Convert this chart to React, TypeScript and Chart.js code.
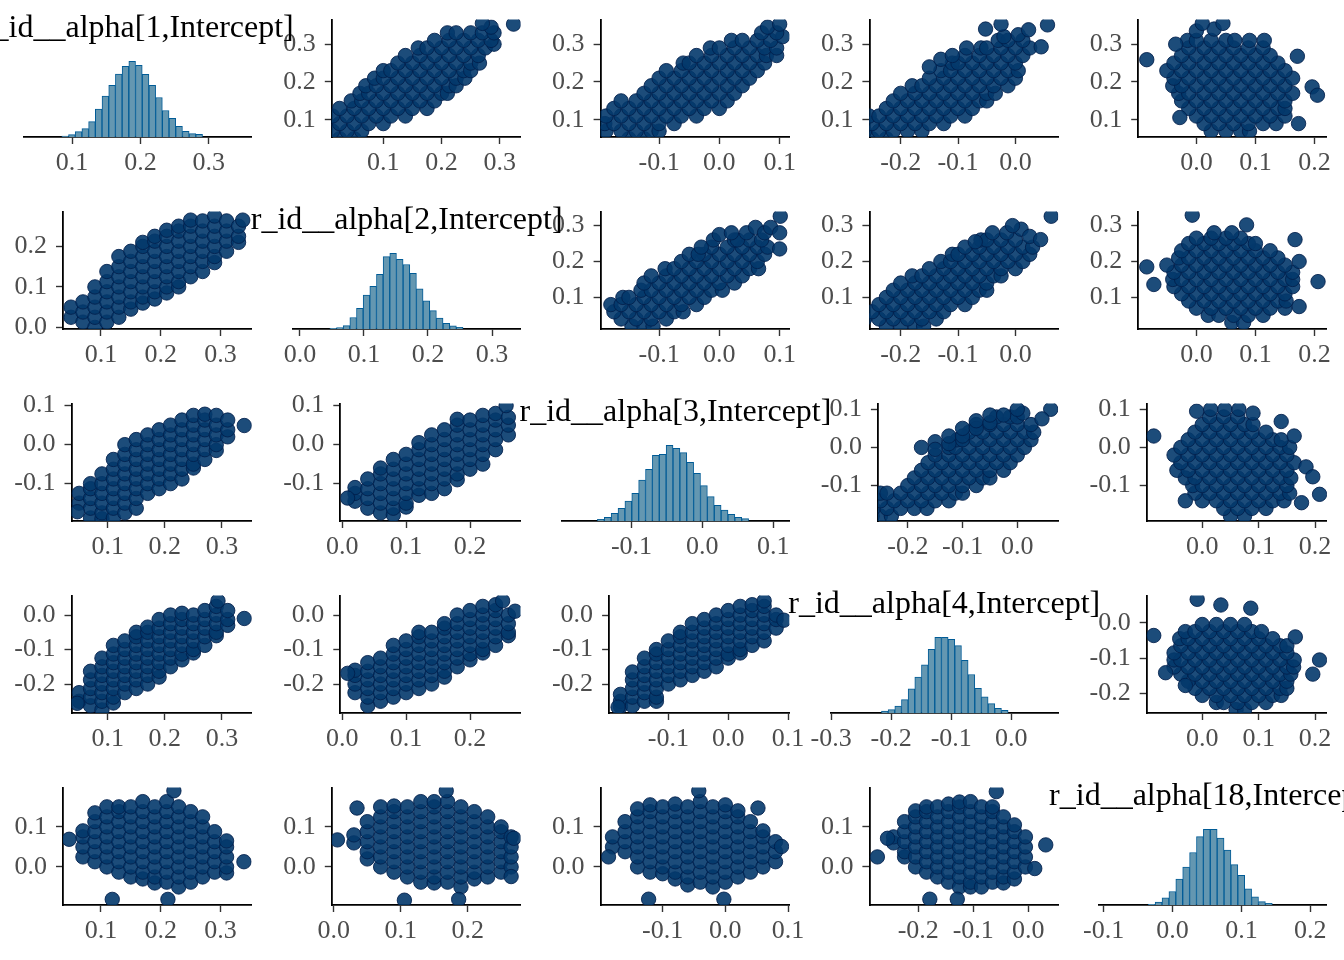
import { useEffect, useRef } from 'react';
import { Chart, registerables } from 'chart.js';

Chart.register(...registerables);

type Col = [number, number[]];
type Pt = [number, number];
type Lim = [number, number];

const PARAMS = [
  'r_id__alpha[1,Intercept]',
  'r_id__alpha[2,Intercept]',
  'r_id__alpha[3,Intercept]',
  'r_id__alpha[4,Intercept]',
  'r_id__alpha[18,Intercept]'
];

const TICK_VALUES = [-0.3, -0.2, -0.1, 0, 0.1, 0.2, 0.3];

// diagonal histograms: bin centres and bar heights
const HIST_1_BINS = [0.0899, 0.0997, 0.1095, 0.1193, 0.1291, 0.1389, 0.1487, 0.1585, 0.1683, 0.1781, 0.1879, 0.1977, 0.2075, 0.2173, 0.2271, 0.2369, 0.2467, 0.2565, 0.2663, 0.2761, 0.2859];
const HIST_1_COUNTS = [3, 7, 16, 25, 46, 83, 122, 154, 188, 211, 226, 214, 187, 154, 118, 79, 56, 32, 17, 10, 8];

const HIST_2_BINS = [0.0519, 0.0623, 0.0727, 0.0831, 0.0935, 0.1039, 0.1143, 0.1247, 0.1351, 0.1455, 0.1559, 0.1663, 0.1767, 0.1871, 0.1975, 0.2079, 0.2183, 0.2287, 0.2391, 0.2495];
const HIST_2_COUNTS = [2, 4, 10, 34, 61, 100, 126, 161, 213, 223, 205, 190, 164, 118, 83, 54, 32, 17, 9, 5];

const HIST_3_BINS = [-0.1432, -0.1335, -0.1238, -0.1141, -0.1044, -0.0947, -0.085, -0.0753, -0.0656, -0.0559, -0.0462, -0.0365, -0.0268, -0.0171, -0.0074, 0.0023, 0.012, 0.0217, 0.0314, 0.0411, 0.0508, 0.0605];
const HIST_3_COUNTS = [5, 11, 23, 38, 60, 83, 123, 155, 197, 200, 227, 218, 205, 176, 143, 106, 73, 47, 33, 20, 11, 7];

const HIST_4_BINS = [-0.2106, -0.1995, -0.1884, -0.1773, -0.1662, -0.1551, -0.144, -0.1329, -0.1218, -0.1107, -0.0996, -0.0885, -0.0774, -0.0663, -0.0552, -0.0441, -0.033, -0.0219, -0.0108];
const HIST_4_COUNTS = [6, 10, 21, 40, 72, 107, 144, 190, 226, 226, 220, 201, 157, 115, 74, 48, 28, 14, 8];

const HIST_5_BINS = [-0.0303, -0.0203, -0.0103, -0.0003, 0.0097, 0.0197, 0.0297, 0.0397, 0.0497, 0.0597, 0.0697, 0.0797, 0.0897, 0.0997, 0.1097, 0.1197, 0.1297, 0.1397];
const HIST_5_COUNTS = [2, 9, 21, 40, 77, 113, 156, 203, 225, 225, 199, 163, 120, 88, 48, 24, 10, 5];

// axis limits per column / row
const X_HIST: Lim[] = [[0.0297, 0.3627], [-0.0112, 0.3445], [-0.1986, 0.1228], [-0.3012, 0.078], [-0.1065, 0.224]];
const X_UPPER: Lim[] = [[0, 0], [0.0117, 0.3354], [-0.197, 0.116], [-0.2546, 0.0745], [-0.0985, 0.221]];
const X_LOWER: Lim[] = [[0.0367, 0.352], [-0.003, 0.279], [-0.199, 0.102], [-0.289, 0.0545], [0, 0]];
const Y_UPPER: Lim[] = [[0.0545, 0.365], [0.012, 0.339], [-0.193, 0.115], [-0.2546, 0.0765], [0, 0]];
const Y_LOWER: Lim[] = [[0, 0], [-0.004, 0.286], [-0.1958, 0.1052], [-0.284, 0.0563], [-0.095, 0.198]];

// scatter clouds: [lower-index param, [higher-index param values]]
// body is shared by both triangles, *_LOWER / *_UPPER are the stray draws seen in each
const PAIR_1_2: Col[] = [
  [0.05, [0.025, 0.05]],
  [0.07, [0.013, 0.038, 0.063]],
  [0.09, [0, 0.025, 0.05, 0.075, 0.1]],
  [0.11, [0.013, 0.038, 0.063, 0.088, 0.113, 0.138]],
  [0.13, [0.025, 0.05, 0.075, 0.1, 0.125, 0.15, 0.175]],
  [0.15, [0.045, 0.063, 0.088, 0.113, 0.138, 0.163, 0.188]],
  [0.17, [0.06, 0.075, 0.1, 0.125, 0.15, 0.175, 0.2, 0.21]],
  [0.19, [0.07, 0.088, 0.113, 0.138, 0.163, 0.188, 0.213, 0.225]],
  [0.21, [0.085, 0.1, 0.125, 0.15, 0.175, 0.2, 0.225, 0.24]],
  [0.23, [0.1, 0.113, 0.138, 0.163, 0.188, 0.213, 0.238, 0.25]],
  [0.25, [0.125, 0.15, 0.175, 0.2, 0.225, 0.25, 0.265]],
  [0.27, [0.138, 0.163, 0.188, 0.213, 0.238, 0.263]],
  [0.29, [0.16, 0.175, 0.2, 0.225, 0.25, 0.275]],
  [0.31, [0.188, 0.213, 0.238, 0.263]],
  [0.33, [0.21, 0.225, 0.25]]
];
const PAIR_1_2_LOWER: Pt[] = [[0.337, 0.265]];
const PAIR_1_2_UPPER: Pt[] = [[0.3, 0.29], [0.31, 0.285], [0.33, 0.27], [0.33, 0.29], [0.345, 0.285], [0.353, 0.3235], [0.355, 0.27]];

const PAIR_1_3: Col[] = [
  [0.05, [-0.15, -0.125]],
  [0.07, [-0.188, -0.163, -0.138, -0.113, -0.1]],
  [0.09, [-0.19, -0.175, -0.15, -0.125, -0.1, -0.075]],
  [0.11, [-0.188, -0.163, -0.138, -0.113, -0.088, -0.063, -0.038]],
  [0.13, [-0.175, -0.15, -0.125, -0.1, -0.075, -0.05, -0.025, 0]],
  [0.15, [-0.163, -0.138, -0.113, -0.088, -0.063, -0.038, -0.013, 0.013]],
  [0.17, [-0.125, -0.1, -0.075, -0.05, -0.025, 0, 0.025]],
  [0.19, [-0.113, -0.088, -0.063, -0.038, -0.013, 0.013, 0.038]],
  [0.21, [-0.1, -0.075, -0.05, -0.025, 0, 0.025, 0.05]],
  [0.23, [-0.088, -0.063, -0.038, -0.013, 0.013, 0.038, 0.063]],
  [0.25, [-0.06, -0.05, -0.025, 0, 0.025, 0.05, 0.075]],
  [0.27, [-0.038, -0.013, 0.013, 0.038, 0.063, 0.078]],
  [0.29, [-0.015, 0, 0.025, 0.05, 0.075]],
  [0.31, [0.02, 0.038, 0.063]]
];
const PAIR_1_3_LOWER: Pt[] = [[0.339, 0.049], [0.047, -0.172]];
const PAIR_1_3_UPPER: Pt[] = [[0.27, 0.095], [0.29, 0.095], [0.31, 0.085], [0.32, 0.105], [0.33, 0.07], [0.33, 0.095], [0.345, 0.08], [0.353, 0.1]];

const PAIR_1_4: Col[] = [
  [0.05, [-0.25, -0.225]],
  [0.07, [-0.263, -0.238, -0.213, -0.188, -0.163]],
  [0.09, [-0.275, -0.25, -0.225, -0.2, -0.175, -0.15, -0.125]],
  [0.11, [-0.255, -0.238, -0.213, -0.188, -0.163, -0.138, -0.113, -0.088]],
  [0.13, [-0.225, -0.2, -0.175, -0.15, -0.125, -0.1, -0.075]],
  [0.15, [-0.213, -0.188, -0.163, -0.138, -0.113, -0.088, -0.063, -0.05]],
  [0.17, [-0.2, -0.175, -0.15, -0.125, -0.1, -0.075, -0.05, -0.035]],
  [0.19, [-0.18, -0.163, -0.138, -0.113, -0.088, -0.063, -0.038, -0.013]],
  [0.21, [-0.15, -0.125, -0.1, -0.075, -0.05, -0.025, 0]],
  [0.23, [-0.13, -0.113, -0.088, -0.063, -0.038, -0.013, 0.005]],
  [0.25, [-0.11, -0.1, -0.075, -0.05, -0.025, 0]],
  [0.27, [-0.088, -0.063, -0.038, -0.013, 0.013]],
  [0.29, [-0.06, -0.05, -0.025, 0, 0.025]],
  [0.31, [-0.03, -0.013, 0.013]]
];
const PAIR_1_4_LOWER: Pt[] = [[0.339, -0.01], [0.293, 0.041], [0.0466, -0.256]];
const PAIR_1_4_UPPER: Pt[] = [[0.24, -0.15], [0.26, -0.13], [0.27, -0.11], [0.29, -0.085], [0.32, -0.02], [0.325, 0.005], [0.34, -0.052], [0.353, -0.025], [0.338, 0.023], [0.351, 0.056], [0.293, 0.045]];

const PAIR_1_5: Col[] = [
  [0.07, [0.025, 0.05, 0.075, 0.09]],
  [0.09, [0.013, 0.038, 0.063, 0.088, 0.113, 0.135]],
  [0.11, [0, 0.025, 0.05, 0.075, 0.1, 0.125, 0.15]],
  [0.13, [-0.013, 0.013, 0.038, 0.063, 0.088, 0.113, 0.138, 0.15]],
  [0.15, [-0.025, 0, 0.025, 0.05, 0.075, 0.1, 0.125, 0.15]],
  [0.17, [-0.03, -0.013, 0.013, 0.038, 0.063, 0.088, 0.113, 0.138, 0.163]],
  [0.19, [-0.04, -0.025, 0, 0.025, 0.05, 0.075, 0.1, 0.125, 0.15]],
  [0.21, [-0.038, -0.013, 0.013, 0.038, 0.063, 0.088, 0.113, 0.138, 0.163]],
  [0.23, [-0.05, -0.025, 0, 0.025, 0.05, 0.075, 0.1, 0.125, 0.15]],
  [0.25, [-0.038, -0.013, 0.013, 0.038, 0.063, 0.088, 0.113, 0.138]],
  [0.27, [-0.025, 0, 0.025, 0.05, 0.075, 0.1, 0.125]],
  [0.29, [-0.013, 0.013, 0.038, 0.063, 0.088]],
  [0.31, [-0.015, 0, 0.025, 0.05, 0.065]]
];
const PAIR_1_5_LOWER: Pt[] = [[0.047, 0.069], [0.339, 0.013], [0.119, -0.081], [0.212, -0.081], [0.222, 0.19]];
const PAIR_1_5_UPPER: Pt[] = [[0.29, 0.113], [0.3, -0.035], [0.31, 0.09], [0.31, 0.115], [0.335, 0], [0.34, 0.03], [0.355, 0.01], [0.355, 0.045], [0.259, -0.084], [0.268, 0.171], [0.187, 0.196], [0.165, 0.205], [0.09, 0.173], [0.106, -0.028]];

const PAIR_2_3: Col[] = [
  [0.02, [-0.145, -0.125, -0.11]],
  [0.04, [-0.163, -0.138, -0.113, -0.088]],
  [0.06, [-0.175, -0.15, -0.125, -0.1, -0.075, -0.06]],
  [0.08, [-0.18, -0.163, -0.138, -0.113, -0.088, -0.063, -0.038]],
  [0.1, [-0.16, -0.15, -0.125, -0.1, -0.075, -0.05, -0.025]],
  [0.12, [-0.13, -0.113, -0.088, -0.063, -0.038, -0.013, 0.005]],
  [0.14, [-0.125, -0.1, -0.075, -0.05, -0.025, 0, 0.025]],
  [0.16, [-0.113, -0.088, -0.063, -0.038, -0.013, 0.013, 0.038]],
  [0.18, [-0.09, -0.075, -0.05, -0.025, 0, 0.025, 0.05, 0.065]],
  [0.2, [-0.063, -0.038, -0.013, 0.013, 0.038, 0.063]],
  [0.22, [-0.05, -0.025, 0, 0.025, 0.05, 0.075]],
  [0.24, [-0.013, 0.013, 0.038, 0.063, 0.08]],
  [0.26, [0.025, 0.05, 0.07]]
];
const PAIR_2_3_LOWER: Pt[] = [[0.0084, -0.137], [0.2565, 0.1]];
const PAIR_2_3_UPPER: Pt[] = [[0.22, -0.035], [0.24, -0.03], [0.26, -0.01], [0.275, 0], [0.26, 0.03], [0.28, 0.02], [0.28, 0.045], [0.295, 0.06], [0.28, 0.075], [0.295, 0.085], [0.235, 0.1], [0.28, 0.1], [0.326, 0.101]];

const PAIR_2_4: Col[] = [
  [0.02, [-0.225, -0.2, -0.175, -0.16]],
  [0.04, [-0.263, -0.238, -0.213, -0.188, -0.163, -0.138]],
  [0.06, [-0.25, -0.225, -0.2, -0.175, -0.15, -0.125]],
  [0.08, [-0.238, -0.213, -0.188, -0.163, -0.138, -0.113, -0.088]],
  [0.1, [-0.225, -0.2, -0.175, -0.15, -0.125, -0.1, -0.075]],
  [0.12, [-0.213, -0.188, -0.163, -0.138, -0.113, -0.088, -0.063, -0.05]],
  [0.14, [-0.2, -0.175, -0.15, -0.125, -0.1, -0.075, -0.05]],
  [0.16, [-0.18, -0.163, -0.138, -0.113, -0.088, -0.063, -0.038, -0.025]],
  [0.18, [-0.15, -0.125, -0.1, -0.075, -0.05, -0.025, 0]],
  [0.2, [-0.13, -0.113, -0.088, -0.063, -0.038, -0.013, 0.013]],
  [0.22, [-0.11, -0.1, -0.075, -0.05, -0.025, 0, 0.025]],
  [0.24, [-0.088, -0.063, -0.038, -0.013, 0.013, 0.03]],
  [0.26, [-0.06, -0.05, -0.025, 0]]
];
const PAIR_2_4_LOWER: Pt[] = [[0.0084, -0.169], [0.251, 0.041], [0.2705, 0.011]];
const PAIR_2_4_UPPER: Pt[] = [[0.255, -0.07], [0.28, -0.04], [0.28, -0.015], [0.29, 0.01], [0.3, -0.005], [0.27, 0.025], [0.326, 0.0625], [0.261, 0.044]];

const PAIR_2_5: Col[] = [
  [0.03, [0.06, 0.08]],
  [0.05, [0.02, 0.038, 0.063, 0.088, 0.113]],
  [0.07, [0, 0.025, 0.05, 0.075, 0.1, 0.125, 0.15]],
  [0.09, [-0.013, 0.013, 0.038, 0.063, 0.088, 0.113, 0.138, 0.152]],
  [0.11, [-0.025, 0, 0.025, 0.05, 0.075, 0.1, 0.125, 0.15]],
  [0.13, [-0.038, -0.013, 0.013, 0.038, 0.063, 0.088, 0.113, 0.138, 0.163]],
  [0.15, [-0.04, -0.025, 0, 0.025, 0.05, 0.075, 0.1, 0.125, 0.15, 0.163]],
  [0.17, [-0.038, -0.013, 0.013, 0.038, 0.063, 0.088, 0.113, 0.138, 0.163]],
  [0.19, [-0.05, -0.025, 0, 0.025, 0.05, 0.075, 0.1, 0.125, 0.15]],
  [0.21, [-0.03, -0.013, 0.013, 0.038, 0.063, 0.088, 0.113, 0.138]],
  [0.23, [-0.025, 0, 0.025, 0.05, 0.075, 0.1, 0.125]],
  [0.25, [-0.013, 0.013, 0.038, 0.063, 0.088, 0.1]],
  [0.265, [0, 0.025, 0.05, 0.075]]
];
const PAIR_2_5_LOWER: Pt[] = [[0.0054, 0.0675], [0.0347, 0.147], [0.168, 0.19], [0.1055, -0.083], [0.1866, -0.081], [0.269, 0.0715], [0.265, -0.024]];
const PAIR_2_5_UPPER: Pt[] = [[0.329, -0.007], [0.302, 0.085], [0.261, 0.167], [0.2, 0.174], [0.144, 0.206], [0.0745, 0.174], [0.185, -0.084], [0.136, -0.072], [0.28, 0.03], [0.28, 0.06]];

const PAIR_3_4: Col[] = [
  [-0.18, [-0.265, -0.25, -0.23]],
  [-0.16, [-0.263, -0.238, -0.213, -0.188, -0.165]],
  [-0.14, [-0.25, -0.225, -0.2, -0.175, -0.15, -0.125]],
  [-0.12, [-0.25, -0.238, -0.213, -0.188, -0.163, -0.138, -0.113, -0.1]],
  [-0.1, [-0.2, -0.175, -0.15, -0.125, -0.1, -0.075]],
  [-0.08, [-0.188, -0.163, -0.138, -0.113, -0.088, -0.063, -0.05]],
  [-0.06, [-0.175, -0.15, -0.125, -0.1, -0.075, -0.05, -0.025]],
  [-0.04, [-0.163, -0.138, -0.113, -0.088, -0.063, -0.038, -0.013]],
  [-0.02, [-0.15, -0.125, -0.1, -0.075, -0.05, -0.025, 0]],
  [0, [-0.125, -0.113, -0.088, -0.063, -0.038, -0.013, 0.013]],
  [0.02, [-0.11, -0.1, -0.075, -0.05, -0.025, 0, 0.025]],
  [0.04, [-0.088, -0.063, -0.038, -0.013, 0.013, 0.03]],
  [0.06, [-0.075, -0.05, -0.025, 0, 0.025]],
  [0.08, [-0.038, -0.013, 0]]
];
const PAIR_3_4_LOWER: Pt[] = [[0.06, 0.041], [0.093, -0.015], [-0.184, -0.267]];
const PAIR_3_4_UPPER: Pt[] = [[0, -0.175], [0.015, -0.15], [-0.005, -0.15], [0.01, -0.125], [0.03, -0.125], [0.03, -0.1], [0.05, -0.1], [0.05, -0.075], [0.07, -0.075], [0.065, -0.05], [0.085, -0.05], [0.085, -0.025], [0.09, 0.01], [0.1, 0.061], [0.075, 0.045], [0.1, 0]];

const PAIR_3_5: Col[] = [
  [-0.18, [0.05, 0.075]],
  [-0.16, [0.038, 0.063, 0.088, 0.113]],
  [-0.14, [0, 0.025, 0.05, 0.075, 0.1, 0.125, 0.145]],
  [-0.12, [-0.013, 0.013, 0.038, 0.063, 0.088, 0.113, 0.138, 0.155]],
  [-0.1, [-0.017, 0, 0.025, 0.05, 0.075, 0.1, 0.125, 0.15]],
  [-0.08, [-0.03, -0.013, 0.013, 0.038, 0.063, 0.088, 0.113, 0.138, 0.157]],
  [-0.06, [-0.045, -0.025, 0, 0.025, 0.05, 0.075, 0.1, 0.125, 0.15]],
  [-0.04, [-0.038, -0.013, 0.013, 0.038, 0.063, 0.088, 0.113, 0.138, 0.163]],
  [-0.02, [-0.05, -0.025, 0, 0.025, 0.05, 0.075, 0.1, 0.125, 0.15]],
  [0, [-0.038, -0.013, 0.013, 0.038, 0.063, 0.088, 0.113, 0.138, 0.155]],
  [0.02, [-0.025, 0, 0.025, 0.05, 0.075, 0.1, 0.125, 0.14]],
  [0.04, [-0.013, 0.013, 0.038, 0.063, 0.088, 0.113]],
  [0.06, [0, 0.025, 0.05, 0.075, 0.09]],
  [0.08, [0.013, 0.038, 0.063]]
];
const PAIR_3_5_LOWER: Pt[] = [[-0.1864, 0.025], [-0.0424, 0.19], [0.052, 0.147], [-0.1224, -0.0805], [-0.0024, -0.0805], [0.0896, 0.051]];
const PAIR_3_5_UPPER: Pt[] = [[0.095, -0.01], [0.1, 0.015], [0.1, 0.04], [0.1, 0.065], [0.09, 0.09], [0.03, -0.086], [0.068, 0.14], [0.03, 0.163], [-0.051, 0.184], [-0.077, 0.196], [-0.123, 0.208], [-0.145, 0.176], [-0.14, -0.03]];

const PAIR_4_5: Col[] = [
  [-0.245, [0.06, 0.075]],
  [-0.225, [0.025, 0.038, 0.063, 0.088, 0.113]],
  [-0.205, [0, 0.025, 0.05, 0.075, 0.1, 0.125, 0.14]],
  [-0.185, [-0.013, 0.013, 0.038, 0.063, 0.088, 0.113, 0.138, 0.15]],
  [-0.165, [-0.025, 0, 0.025, 0.05, 0.075, 0.1, 0.125, 0.15]],
  [-0.145, [-0.038, -0.013, 0.013, 0.038, 0.063, 0.088, 0.113, 0.138, 0.157]],
  [-0.125, [-0.05, -0.025, 0, 0.025, 0.05, 0.075, 0.1, 0.125, 0.15, 0.162]],
  [-0.105, [-0.05, -0.038, -0.013, 0.013, 0.038, 0.063, 0.088, 0.113, 0.138, 0.163]],
  [-0.085, [-0.05, -0.025, 0, 0.025, 0.05, 0.075, 0.1, 0.125, 0.15]],
  [-0.065, [-0.038, -0.013, 0.013, 0.038, 0.063, 0.088, 0.113, 0.138, 0.15]],
  [-0.045, [-0.04, -0.025, 0, 0.025, 0.05, 0.075, 0.1, 0.125]],
  [-0.025, [-0.03, -0.013, 0.013, 0.038, 0.063, 0.088, 0.105]],
  [-0.005, [0, 0.025, 0.05, 0.075]]
];
const PAIR_4_5_LOWER: Pt[] = [[-0.2745, 0.025], [-0.058, 0.188], [-0.179, -0.0805], [-0.129, -0.0805], [0.032, 0.055], [0.012, -0.004], [-0.256, 0.0715]];
const PAIR_4_5_UPPER: Pt[] = [[0.066, -0.009], [0.05, 0.033], [0.041, 0.086], [-0.036, -0.086], [-0.105, 0.208], [-0.145, 0.196], [-0.04, 0.165], [-0.141, -0.065], [-0.177, -0.03]];

const HIST_BINS = [HIST_1_BINS, HIST_2_BINS, HIST_3_BINS, HIST_4_BINS, HIST_5_BINS];
const HIST_COUNTS = [HIST_1_COUNTS, HIST_2_COUNTS, HIST_3_COUNTS, HIST_4_COUNTS, HIST_5_COUNTS];

const PAIRS: Record<string, [Col[], Pt[], Pt[]]> = {
  '01': [PAIR_1_2, PAIR_1_2_LOWER, PAIR_1_2_UPPER],
  '02': [PAIR_1_3, PAIR_1_3_LOWER, PAIR_1_3_UPPER],
  '03': [PAIR_1_4, PAIR_1_4_LOWER, PAIR_1_4_UPPER],
  '04': [PAIR_1_5, PAIR_1_5_LOWER, PAIR_1_5_UPPER],
  '12': [PAIR_2_3, PAIR_2_3_LOWER, PAIR_2_3_UPPER],
  '13': [PAIR_2_4, PAIR_2_4_LOWER, PAIR_2_4_UPPER],
  '14': [PAIR_2_5, PAIR_2_5_LOWER, PAIR_2_5_UPPER],
  '23': [PAIR_3_4, PAIR_3_4_LOWER, PAIR_3_4_UPPER],
  '24': [PAIR_3_5, PAIR_3_5_LOWER, PAIR_3_5_UPPER],
  '34': [PAIR_4_5, PAIR_4_5_LOWER, PAIR_4_5_UPPER]
};

const FONT = '"Liberation Serif", "Times New Roman", serif';
const TICK_SIZE = 26;
const TITLE_SIZE = 32;
const CELL_W = 268.8;
const CELL_H = 192;
const Y_AXIS_W = 70;
const X_AXIS_H = 48;
const HIST_H = 79.3;

const fmt = (v: number) => (Math.abs(v) < 1e-9 ? '0.0' : v.toFixed(1));
const ticksIn = (lim: Lim) => TICK_VALUES.filter((v) => v >= lim[0] - 1e-9 && v <= lim[1] + 1e-9);

function axis(lim: Lim, horizontal: boolean) {
  return {
    type: 'linear',
    position: horizontal ? 'bottom' : 'left',
    min: lim[0],
    max: lim[1],
    offset: false,
    z: 1,
    border: { display: true, color: '#000', width: 1.8 },
    grid: {
      display: true,
      drawOnChartArea: false,
      drawTicks: true,
      offset: false,
      tickLength: 7,
      tickWidth: 1.4,
      tickColor: '#333'
    },
    ticks: {
      color: '#4d4d4d',
      font: { family: FONT, size: TICK_SIZE },
      padding: horizontal ? 4 : 9,
      autoSkip: false,
      maxRotation: 0,
      minRotation: 0,
      callback: (v: number | string) => fmt(Number(v))
    },
    afterBuildTicks: (s: any) => {
      s.ticks = ticksIn(lim).map((value) => ({ value }));
    },
    afterFit: (s: any) => {
      if (horizontal) s.height = X_AXIS_H;
      else s.width = Y_AXIS_W;
    }
  };
}

const diagTitle = {
  id: 'diagTitle',
  afterDraw(chart: any, _args: any, opts: any) {
    if (!opts || !opts.text) return;
    const { ctx, chartArea } = chart;
    ctx.save();
    ctx.font = `${TITLE_SIZE}px ${FONT}`;
    ctx.fillStyle = '#000';
    ctx.textAlign = 'center';
    ctx.textBaseline = 'alphabetic';
    ctx.fillText(opts.text, (chartArea.left + chartArea.right) / 2, chartArea.top - 20.5);
    ctx.restore();
  }
};

function cloud(r: number, c: number) {
  const lo = Math.min(r, c);
  const hi = Math.max(r, c);
  const [cols, lower, upper] = PAIRS[`${lo}${hi}`];
  const pts: Pt[] = [];
  cols.forEach(([a, bs]) => bs.forEach((b) => pts.push([a, b])));
  (r > c ? lower : upper).forEach((p) => pts.push(p));
  return pts.map(([a, b]) => (r > c ? { x: a, y: b } : { x: b, y: a }));
}

function Panel({ r, c }: { r: number; c: number }) {
  const canvasRef = useRef<HTMLCanvasElement>(null);
  const hist = r === c;

  const colLeft = c * CELL_W;
  const plotB = r * CELL_H + 136.8;
  const plotT = hist ? plotB - HIST_H : r * CELL_H + 15.2;
  const xLim = hist ? X_HIST[c] : r < c ? X_UPPER[c] : X_LOWER[c];
  const yLim = hist ? null : r < c ? Y_UPPER[r] : Y_LOWER[r];
  const negY = yLim ? ticksIn(yLim).some((v) => v < 0) : false;
  const plotL = colLeft + (hist ? 24 : negY ? 71.5 : 63);
  const plotR = colLeft + 251.7;

  const left = Math.max(0, Math.floor(plotL - (hist ? 70 : Y_AXIS_W)));
  const right = Math.min(1344, Math.ceil(plotR + (hist ? 70 : 20)));
  const top = Math.floor(plotT - (hist ? 70 : 20));
  const bottom = Math.ceil(plotB + X_AXIS_H);
  const width = right - left;
  const height = bottom - top;

  useEffect(() => {
    if (!canvasRef.current) return;
    const ctx = canvasRef.current.getContext('2d');
    if (!ctx) return;

    const padding = {
      left: plotL - left - (hist ? 0 : Y_AXIS_W),
      right: right - plotR,
      top: plotT - top,
      bottom: 0
    };

    let config: any;
    if (hist) {
      const bins = HIST_BINS[c];
      const counts = HIST_COUNTS[c];
      config = {
        type: 'bar',
        data: {
          datasets: [
            {
              data: bins.map((x, i) => ({ x, y: counts[i] })),
              backgroundColor: '#6497b1',
              borderColor: '#005b96',
              borderWidth: 1,
              barPercentage: 1,
              categoryPercentage: 1,
              grouped: false
            }
          ]
        },
        options: {
          animation: false,
          responsive: false,
          events: [],
          layout: { padding },
          plugins: {
            legend: { display: false },
            tooltip: { enabled: false },
            diagTitle: { text: PARAMS[c] }
          },
          scales: {
            x: axis(xLim, true),
            y: { type: 'linear', display: false, min: 0, max: Math.max(...counts) * 1.05 }
          }
        },
        plugins: [diagTitle]
      };
    } else {
      config = {
        type: 'scatter',
        data: {
          datasets: [
            {
              data: cloud(r, c),
              pointRadius: 7.2,
              pointBorderWidth: 1,
              pointBackgroundColor: 'rgba(3, 57, 108, 0.9)',
              pointBorderColor: 'rgba(1, 31, 75, 0.85)',
              showLine: false,
              clip: 0
            }
          ]
        },
        options: {
          animation: false,
          responsive: false,
          events: [],
          layout: { padding },
          plugins: { legend: { display: false }, tooltip: { enabled: false } },
          scales: { x: axis(xLim, true), y: axis(yLim as Lim, false) }
        }
      };
    }

    const chart = new Chart(ctx, config);
    return () => chart.destroy();
  }, []);

  return (
    <canvas
      ref={canvasRef}
      width={width}
      height={height}
      style={{ position: 'absolute', left, top, width, height }}
    />
  );
}

export default function App() {
  const cells: { r: number; c: number }[] = [];
  for (let r = 0; r < 5; r++) for (let c = 0; c < 5; c++) if (r !== c) cells.push({ r, c });
  for (let d = 0; d < 5; d++) cells.push({ r: d, c: d });

  return (
    <div
      style={{
        position: 'fixed',
        left: 0,
        top: 0,
        width: 1344,
        height: 960,
        overflow: 'hidden',
        background: '#fff'
      }}
    >
      {cells.map(({ r, c }) => (
        <Panel key={`${r}-${c}`} r={r} c={c} />
      ))}
    </div>
  );
}
